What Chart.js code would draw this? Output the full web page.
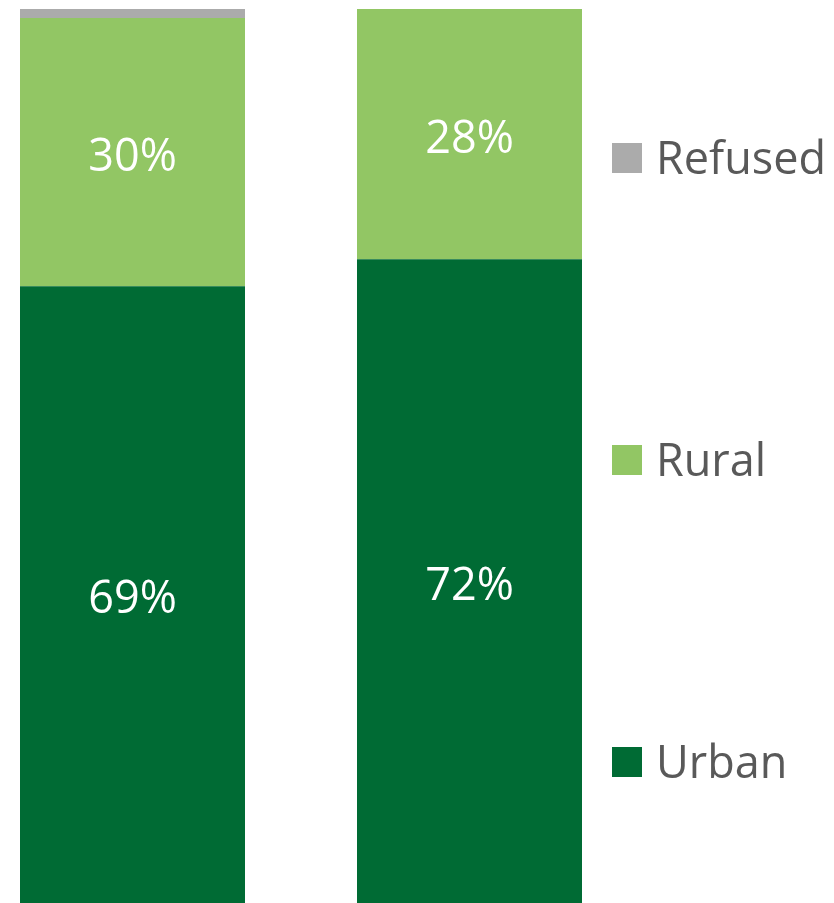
<!DOCTYPE html>
<html>
<head>
<meta charset="utf-8">
<script src="https://cdn.jsdelivr.net/npm/chart.js@4/dist/chart.umd.min.js"></script>
<style>
  html, body { margin: 0; padding: 0; background: #fff; }
  #wrap { position: relative; width: 834px; height: 903px; }
</style>
</head>
<body>
<div id="wrap"><canvas id="chart" width="834" height="903"></canvas></div>
<script>
const groups = ['A', 'B'];
const urban = [69, 72];
const rural = [30, 28];
const refused = [1, 0];
const seriesNames = ['Urban', 'Rural', 'Refused'];
const seriesColors = ['#006B34', '#92C664', '#ABABAB'];

const FONT = '"Open Sans", sans-serif';

// white percent labels in the middle of each big segment
const segmentLabels = {
	id: 'segmentLabels',
	afterDatasetsDraw(chart) {
		const ctx = chart.ctx;
		ctx.save();
		ctx.fillStyle = '#fff';
		ctx.font = '45px ' + FONT;
		ctx.textAlign = 'center';
		ctx.textBaseline = 'middle';
		chart.data.datasets.forEach((ds, di) => {
			if (di === 2) return;
			chart.getDatasetMeta(di).data.forEach((bar, i) => {
				const v = ds.data[i];
				if (!v) return;
				const mid = (bar.y + bar.base) / 2;
				ctx.fillText(v + '%', bar.x, mid + 6);
			});
		});
		ctx.restore();
	}
};

// legend on the right, one entry per series spread down the height
const sideLegend = {
	id: 'sideLegend',
	afterDraw(chart) {
		const ctx = chart.ctx;
		const rows = [762, 460, 158];
		ctx.save();
		ctx.font = '45px ' + FONT;
		ctx.textAlign = 'left';
		ctx.textBaseline = 'middle';
		seriesNames.forEach((name, i) => {
			const y = rows[i];
			ctx.fillStyle = seriesColors[i];
			ctx.fillRect(612, y - 15, 30, 30);
			ctx.fillStyle = '#595959';
			ctx.fillText(name, 656, y + 3);
		});
		ctx.restore();
	}
};

new Chart(document.getElementById('chart'), {
	type: 'bar',
	data: {
		labels: groups,
		datasets: [
			{ label: seriesNames[0], data: urban, backgroundColor: seriesColors[0], clip: false },
			{ label: seriesNames[1], data: rural, backgroundColor: seriesColors[1], clip: false },
			{ label: seriesNames[2], data: refused, backgroundColor: seriesColors[2], clip: false }
		]
	},
	options: {
		responsive: false,
		animation: false,
		layout: { padding: { left: 132.5, right: 364.5, top: 9, bottom: 0 } },
		datasets: { bar: { barPercentage: 1, categoryPercentage: 225 / 337 } },
		scales: {
			x: { stacked: true, offset: false, display: false },
			y: { stacked: true, min: 0, max: 100, display: false }
		},
		plugins: { legend: { display: false }, tooltip: { enabled: false } }
	},
	plugins: [segmentLabels, sideLegend]
});
</script>
</body>
</html>
